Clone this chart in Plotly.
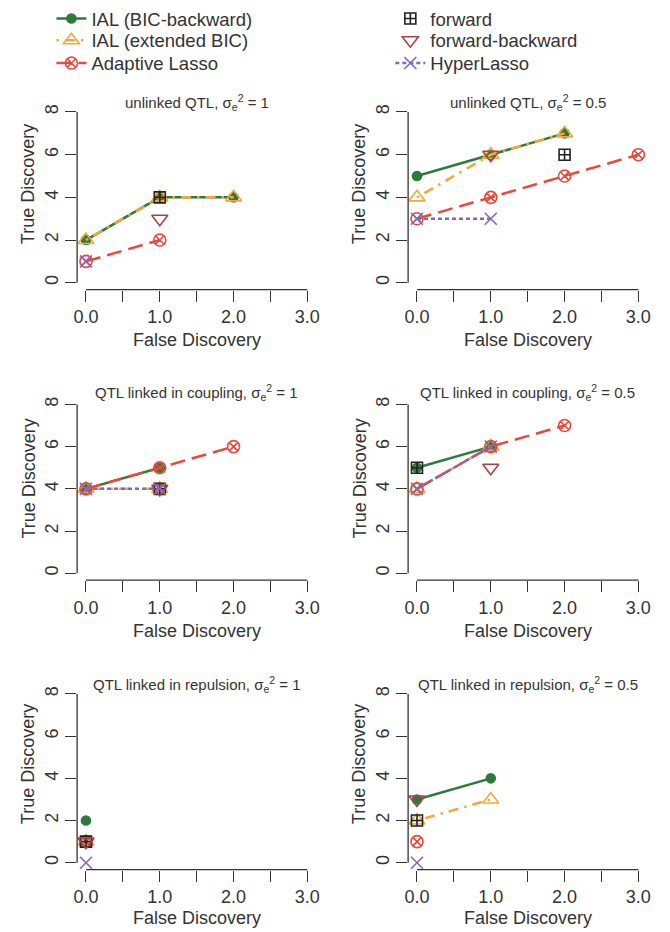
import plotly.graph_objects as go

W, H = 670, 932
FONT = "Liberation Sans, Arial, sans-serif"
INK = "#333333"

# Panel headings (scenario and residual variance)
panel_names = ["unlinked QTL", "unlinked QTL",
               "QTL linked in coupling", "QTL linked in coupling",
               "QTL linked in repulsion", "QTL linked in repulsion"]
panel_sigma2 = ["1", "0.5", "1", "0.5", "1", "0.5"]

# False / true discoveries for each method, one list per panel
bic_fd = [[0, 1, 2], [0, 1, 2], [0, 1], [0, 1], [0], [0, 1]]
bic_td = [[2, 4, 4], [5, 6, 7], [4, 5], [5, 6], [2], [3, 4]]
ebic_fd = [[0, 1, 2], [0, 1, 2], [0, 1], [0, 1], [0], [0, 1]]
ebic_td = [[2, 4, 4], [4, 6, 7], [4, 4], [4, 6], [1], [2, 3]]
alasso_fd = [[0, 1], [0, 1, 2, 3], [0, 1, 2], [0, 1, 2], [0], [0]]
alasso_td = [[1, 2], [3, 4, 5, 6], [4, 5, 6], [4, 6, 7], [1], [1]]
fwd_fd = [[1], [2], [1], [0], [0], [0]]
fwd_td = [[4], [6], [4], [5], [1], [2]]
fb_fd = [[1], [1], [1], [1], [0], [0]]
fb_td = [[3], [6], [4], [5], [1], [3]]
hyper_fd = [[0], [0, 1], [0, 1], [0, 1], [0], [0]]
hyper_td = [[1], [3, 3], [4, 4], [4, 6], [0], [0]]

x_ticks = [0, 0.5, 1, 1.5, 2, 2.5, 3]
x_tick_text = ["0.0", "", "1.0", "", "2.0", "", "3.0"]
y_ticks = [0, 2, 4, 6, 8]

methods = [
    dict(name="IAL (BIC-backward)", fd=bic_fd, td=bic_td, color="#2e7a3c",
         dash="solid", symbol="circle", size=9, lines=True),
    dict(name="IAL (extended BIC)", fd=ebic_fd, td=ebic_td, color="#f2a93b",
         dash="2.5px,6px,10px,6px", symbol="triangle-up-open", size=14, lines=True),
    dict(name="Adaptive Lasso", fd=alasso_fd, td=alasso_td, color="#e8493c",
         dash="15px,7px", symbol="circle-x-open", size=12, lines=True),
    dict(name="forward", fd=fwd_fd, td=fwd_td, color="#222222",
         dash="solid", symbol="square-cross-open", size=11, lines=False),
    dict(name="forward-backward", fd=fb_fd, td=fb_td, color="#a8424c",
         dash="solid", symbol="triangle-down-open", size=14, lines=False),
    dict(name="HyperLasso", fd=hyper_fd, td=hyper_td, color="#8466c4",
         dash="4px,3px", symbol="x-thin-open", size=12, lines=True),
]

# Key layout: two columns of three entries, each entry its own legend box
legend_ids = ["legend", "legend2", "legend3", "legend4", "legend5", "legend6"]
legend_left_px = [48, 48, 48, 391, 391, 391]
legend_row_px = [11, 33, 56, 11, 33, 56]

# Pixel geometry of the 3 x 2 grid of plot regions
col_px = [(74, 316), (409, 651)]
row_px = [(98, 284), (393, 577), (685, 869)]
title_y = [95, 388, 682]
xtitle_y = [335, 628, 918]
ytitle_y = [178, 475, 763]
ytitle_x = [25, 360]


def px_x(v):
    return v / W


def px_y(v):
    return 1 - v / H


fig = go.Figure()
layout_axes = {}
annotations = []
shapes = []

for p in range(6):
    r, c = divmod(p, 2)
    idx = "" if p == 0 else str(p + 1)
    xa, ya = "x" + idx, "y" + idx

    for k, m in enumerate(methods):
        fig.add_trace(go.Scatter(
            x=m["fd"][p], y=m["td"][p],
            mode="lines+markers" if m["lines"] else "markers",
            name=m["name"], legendgroup=m["name"], legend=legend_ids[k],
            showlegend=(p == 0),
            line=dict(color=m["color"], width=2.5, dash=m["dash"]),
            marker=dict(symbol=m["symbol"], size=m["size"], color=m["color"],
                        line=dict(color=m["color"], width=1.6)),
            cliponaxis=False,
            xaxis=xa, yaxis=ya,
        ))

    x0, x1 = col_px[c]
    y0, y1 = row_px[r]
    layout_axes["xaxis" + idx] = dict(
        domain=[px_x(x0), px_x(x1)], anchor=ya, range=[-0.12, 3.12],
        tickvals=x_ticks, ticktext=x_tick_text, ticks="outside", ticklen=11,
        tickwidth=1.3, tickcolor=INK, showline=False, showgrid=False, zeroline=False,
        tickfont=dict(size=18, color=INK, family=FONT), fixedrange=True,
    )
    layout_axes["yaxis" + idx] = dict(
        domain=[px_y(y1), px_y(y0)], anchor=xa, range=[-0.32, 8.32],
        tickvals=y_ticks, ticks="outside", ticklen=11, tickangle=-90,
        tickwidth=1.3, tickcolor=INK, showline=False, showgrid=False, zeroline=False,
        tickfont=dict(size=18, color=INK, family=FONT), fixedrange=True,
    )

    # R-style axis lines spanning only the tick range
    shapes.append(dict(type="line", xref=xa, yref=ya + " domain", x0=0, x1=3, y0=0, y1=0,
                       line=dict(color=INK, width=1.3)))
    shapes.append(dict(type="line", xref=xa + " domain", yref=ya, x0=0, x1=0, y0=0, y1=8,
                       line=dict(color=INK, width=1.3)))

    cx = (x0 + x1) / 2
    annotations.append(dict(
        text=f"{panel_names[p]}, σ<sub>e</sub><sup>2</sup> = {panel_sigma2[p]}",
        x=px_x(cx), y=px_y(title_y[r]), xref="paper", yref="paper",
        xanchor="center", yanchor="middle", showarrow=False,
        font=dict(size=15, color=INK, family=FONT)))
    annotations.append(dict(
        text="False Discovery", x=px_x(cx), y=px_y(xtitle_y[r]), xref="paper", yref="paper",
        xanchor="center", yanchor="middle", showarrow=False,
        font=dict(size=18, color=INK, family=FONT)))
    annotations.append(dict(
        text="True Discovery", x=px_x(ytitle_x[c]), y=px_y(ytitle_y[r]), xref="paper", yref="paper",
        xanchor="center", yanchor="middle", showarrow=False, textangle=-90,
        font=dict(size=18, color=INK, family=FONT)))

legends = {}
for k, lid in enumerate(legend_ids):
    legends[lid] = dict(
        x=px_x(legend_left_px[k]), y=px_y(legend_row_px[k]),
        xanchor="left", yanchor="middle",
        font=dict(size=18.5, color=INK, family=FONT),
        bgcolor="rgba(0,0,0,0)", borderwidth=0, tracegroupgap=0,
    )

fig.update_layout(
    width=W, height=H, margin=dict(l=0, r=0, t=0, b=0),
    paper_bgcolor="white", plot_bgcolor="white",
    font=dict(family=FONT, color=INK),
    annotations=annotations, shapes=shapes,
    **legends,
    **layout_axes,
)

fig.write_html("out.html")
